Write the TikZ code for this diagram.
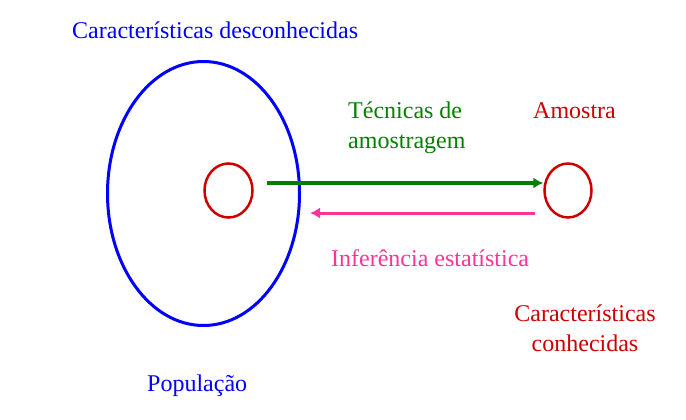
\documentclass[tikz,border=0pt]{standalone}
\usepackage{fontspec}
\setmainfont{Liberation Serif}
\usetikzlibrary{shapes.geometric,arrows.meta}
\definecolor{popblue}{RGB}{0,0,255}
\definecolor{amred}{RGB}{204,0,0}
\definecolor{tecgreen}{RGB}{0,128,0}
\definecolor{infpink}{RGB}{255,51,153}
\tikzset{
  txt/.style={inner sep=0pt,font=\fontsize{24}{30}\selectfont},
  oval/.style={draw,ellipse,inner sep=0pt}
}

\begin{document}
\begin{tikzpicture}[x=1pt,y=-1pt]
\useasboundingbox (0,0) rectangle (686,420);

\node[oval,popblue,line width=3pt,minimum width=192pt,minimum height=264pt] (pop) at (203.5,193.5) {};
\node[oval,amred,line width=2.5pt,minimum width=48pt,minimum height=54pt] (sub) at (228.5,190.5) {};
\node[oval,amred,line width=2.5pt,minimum width=47pt,minimum height=54pt] (amostra) at (568,190.5) {};

\node[txt,popblue,anchor=base west] (desc) at (72,39) {Características desconhecidas};
\node[txt,popblue,anchor=base west] (poplbl) at (147,391) {População};
\node[txt,amred,anchor=base west] (amlbl) at (533,118) {Amostra};
\node[txt,tecgreen,align=left,anchor=north west] (tec) at (348,102) {Técnicas de\\amostragem};
\node[txt,infpink,anchor=base west] (inf) at (331,266) {Inferência estatística};
\node[txt,amred,align=center,anchor=north] (conh) at (585,305) {Características\\conhecidas};

\coordinate (tecA) at (267,183);
\coordinate (infA) at (535,213);

\draw [tecgreen,line width=3.5pt,-{Latex[length=10pt,width=11pt]}] (tecA) -- (tecA -| amostra.west);
\draw [infpink,line width=3pt,-{Latex[length=10pt,width=11pt]}] (infA) -- ([xshift=9pt]infA -| pop.east);

\end{tikzpicture}
\end{document}
